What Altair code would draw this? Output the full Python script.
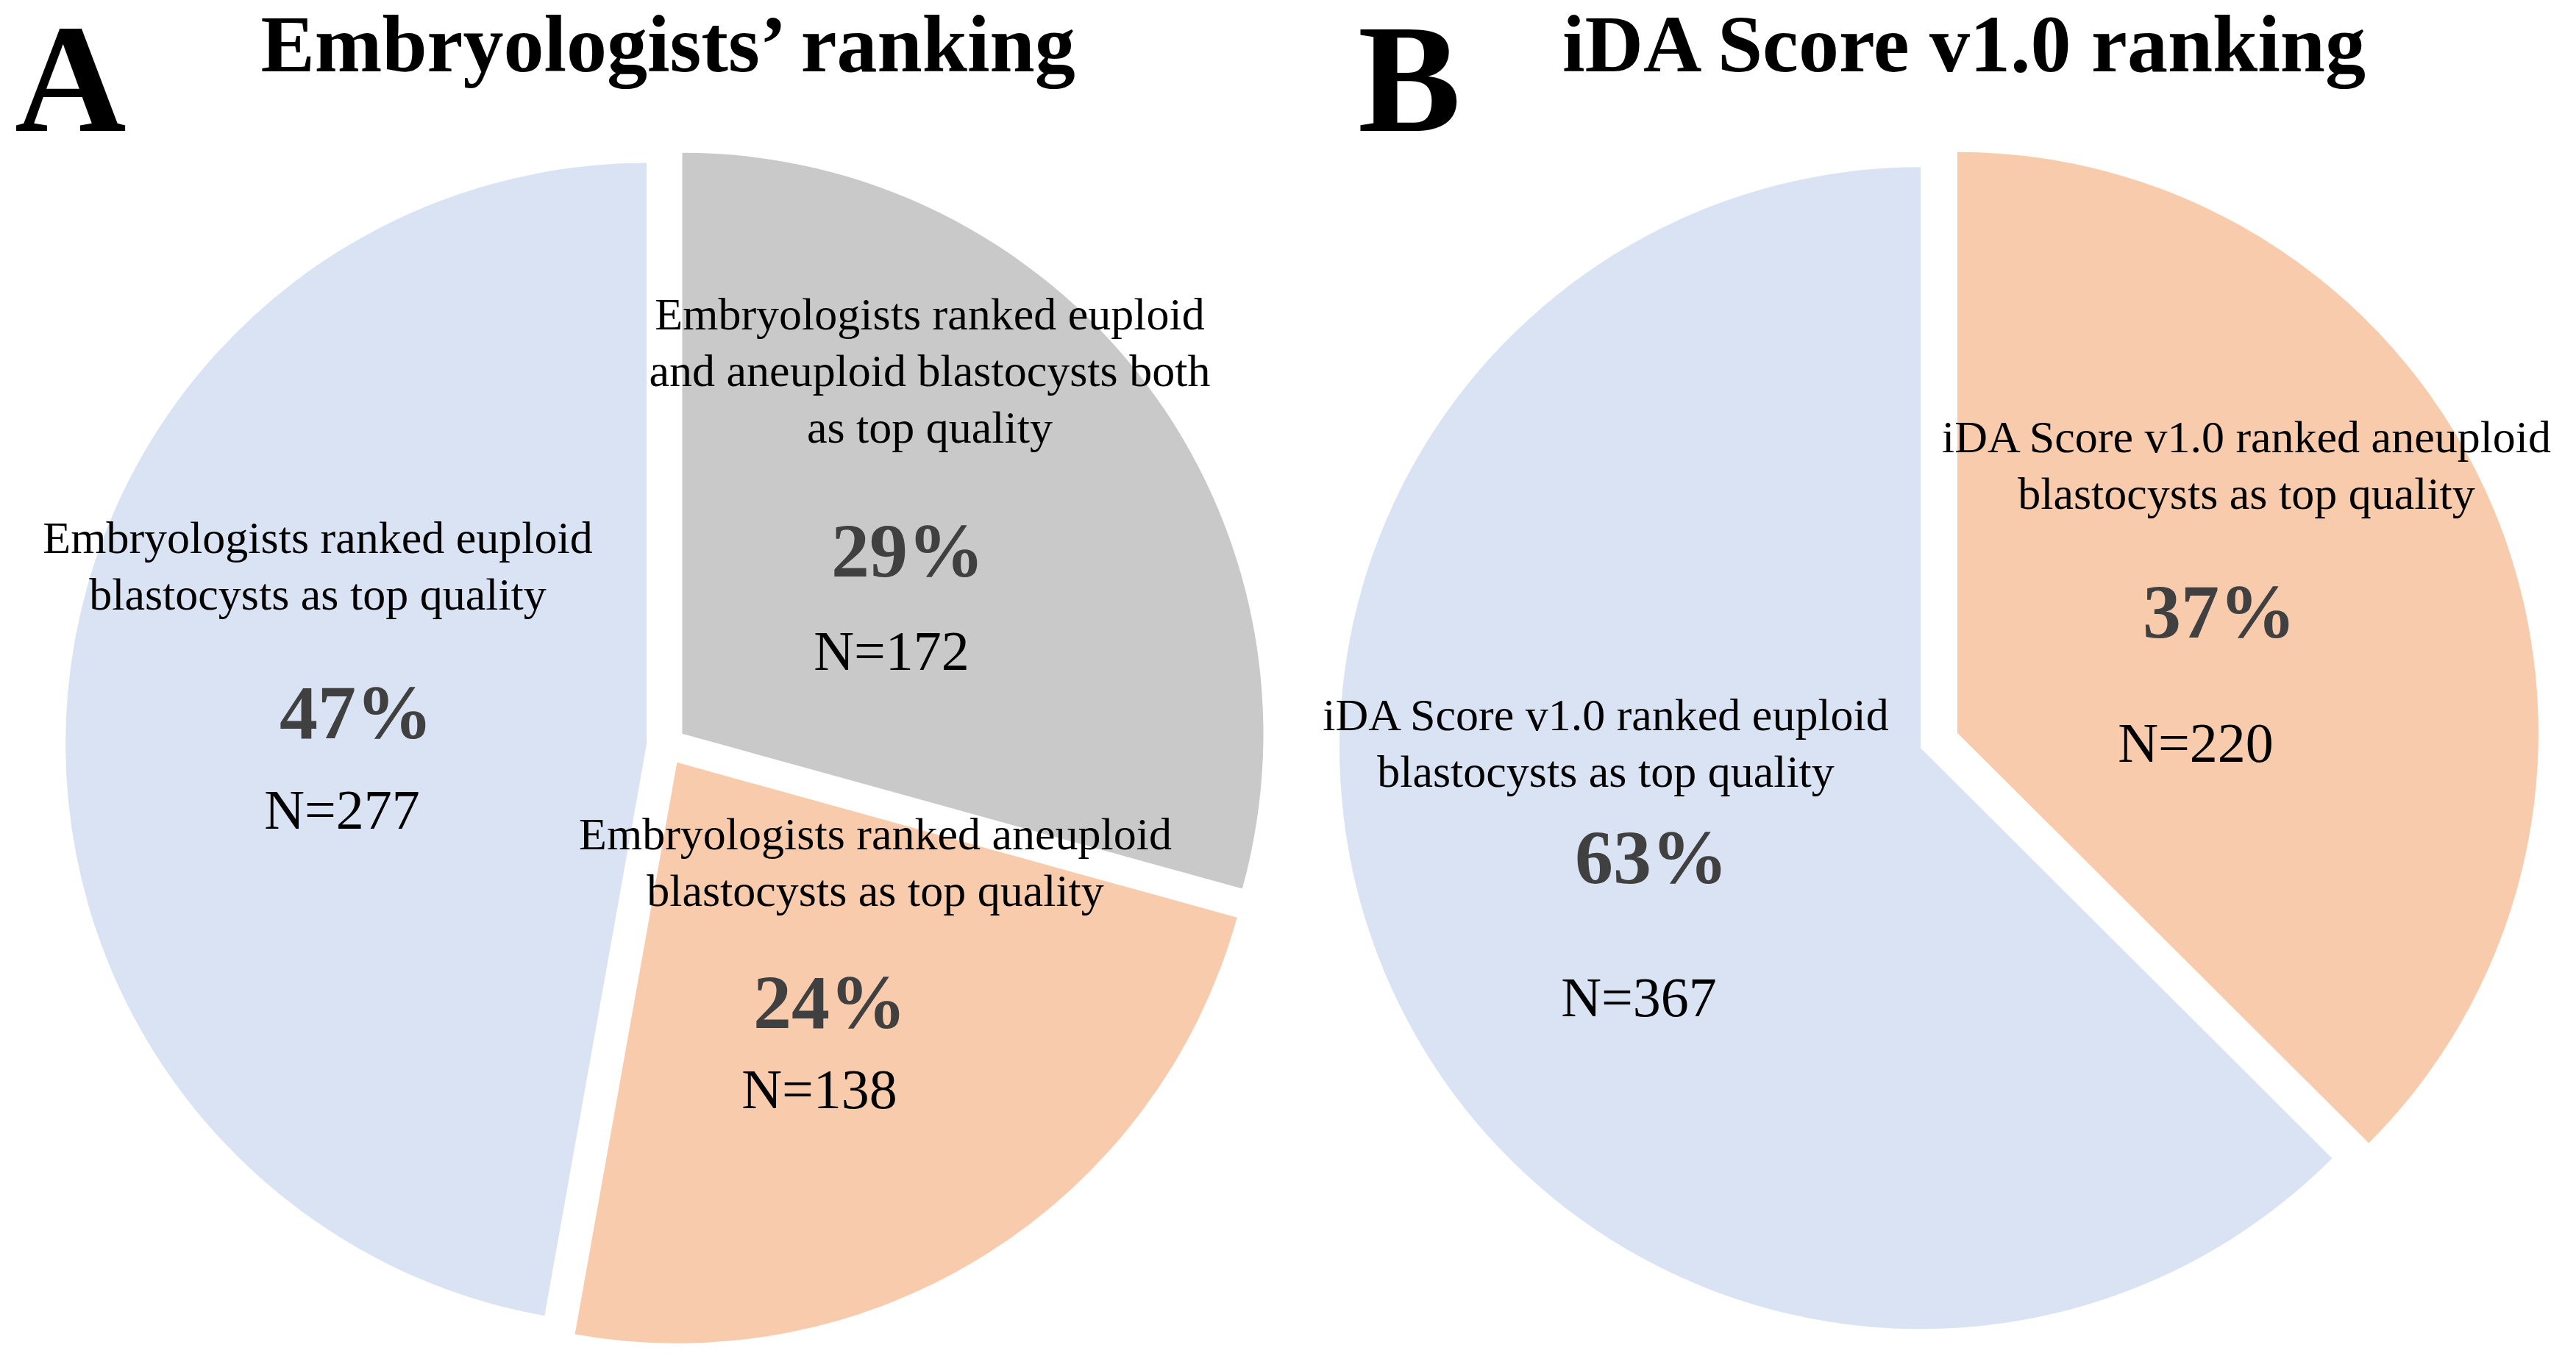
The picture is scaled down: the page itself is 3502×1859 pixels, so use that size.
import math
import altair as alt
import pandas as pd

# ---------------- data ----------------
pies = ["A", "A", "A", "B", "B"]
categories = ["both", "aneuploid", "euploid", "aneuploid", "euploid"]
counts = [172, 138, 277, 220, 367]
percents = ["29%", "24%", "47%", "37%", "63%"]
label_lines = [
    ["Embryologists ranked euploid", "and aneuploid blastocysts both", "as top quality"],
    ["Embryologists ranked aneuploid", "blastocysts as top quality"],
    ["Embryologists ranked euploid", "blastocysts as top quality"],
    ["iDA Score v1.0 ranked aneuploid", "blastocysts as top quality"],
    ["iDA Score v1.0 ranked euploid", "blastocysts as top quality"],
]
panel_letters = ["A", "B"]
panel_titles = ["Embryologists\u2019 ranking", "iDA Score v1.0 ranking"]

# ---------------- style / layout ----------------
colors = {"euploid": "#DAE3F3", "aneuploid": "#F8CBAD", "both": "#C9C9C9"}
W, H, M = 3486, 1843, 8
pie_center = {"A": (906, 1014), "B": (2636, 1007)}
R = 790
EXPLODE = 27
LINE_H = 77
FONT = "Liberation Serif"
# (label center x, first baseline y), (percent x, y), (N x, y)
label_pos = [
    ((1264, 448), (1234, 784), (1212, 911)),
    ((1190, 1155), (1128, 1398), (1114, 1507)),
    ((432, 752), (484, 1004), (465, 1127)),
    ((3054, 615), (3017, 867), (2985, 1036)),
    ((2183, 993), (2245, 1201), (2228, 1382)),
]
title_pos = [(908, 97), (2670, 97)]
letter_pos = [(20, 178), (1846, 178)]

# ---------------- tables ----------------
slices = pd.DataFrame({
    "pie": pies,
    "category": categories,
    "n": counts,
    "order": list(range(len(pies))),
    "color": [colors[c] for c in categories],
    "cx": [pie_center[p][0] for p in pies],
    "cy": [pie_center[p][1] for p in pies],
})

line_rows, pct_rows, n_rows = [], [], []
for i, lines in enumerate(label_lines):
    (lx, ly), (px, py), (nx, ny) = label_pos[i]
    for j, t in enumerate(lines):
        line_rows.append({"x": lx, "y": ly + j * LINE_H, "text": t})
    pct_rows.append({"x": px, "y": py, "text": percents[i]})
    n_rows.append({"x": nx, "y": ny, "text": f"N={counts[i]}"})
lines_df = pd.DataFrame(line_rows)
pct_df = pd.DataFrame(pct_rows)
n_df = pd.DataFrame(n_rows)
title_df = pd.DataFrame({"x": [p[0] for p in title_pos], "y": [p[1] for p in title_pos], "text": panel_titles})
letter_df = pd.DataFrame({"x": [p[0] for p in letter_pos], "y": [p[1] for p in letter_pos], "text": panel_letters})

xs = alt.Scale(domain=[M, M + W], nice=False, zero=False)
ys = alt.Scale(domain=[M + H, M], nice=False, zero=False)

arcs = (
    alt.Chart(slices)
    .transform_joinaggregate(total="sum(n)", groupby=["pie"])
    .transform_window(cum="sum(n)", groupby=["pie"], sort=[alt.SortField("order")], frame=[None, 0])
    .transform_calculate(
        t0="(datum.cum - datum.n) / datum.total",
        t1="datum.cum / datum.total",
        mid=f"2 * PI * (datum.cum - datum.n / 2) / datum.total",
    )
    .transform_calculate(
        px=f"datum.cx + {EXPLODE} * sin(datum.mid)",
        py=f"datum.cy - {EXPLODE} * cos(datum.mid)",
    )
    .mark_arc(radius=R, stroke=None)
    .encode(
        x=alt.X("px:Q", scale=xs, axis=None),
        y=alt.Y("py:Q", scale=ys, axis=None),
        theta=alt.Theta("t0:Q", scale=alt.Scale(domain=[0, 1], range=[0, 2 * math.pi]), stack=None),
        theta2="t1:Q",
        color=alt.Color("color:N", scale=None),
    )
)


def text_layer(df, size, weight="normal", color="black", align="center"):
    return (
        alt.Chart(df)
        .mark_text(font=FONT, fontSize=size, fontWeight=weight, color=color,
                   align=align, baseline="alphabetic")
        .encode(
            x=alt.X("x:Q", scale=xs, axis=None),
            y=alt.Y("y:Q", scale=ys, axis=None),
            text="text:N",
        )
    )


chart = (
    alt.layer(
        arcs,
        text_layer(lines_df, 62),
        text_layer(pct_df, 104, "bold", "#404040"),
        text_layer(n_df, 76),
        text_layer(title_df, 110, "bold"),
        text_layer(letter_df, 210, "bold", align="left"),
    )
    .properties(width=W, height=H, padding=0, background="white")
    .configure_view(stroke=None)
)

chart.save("out.html", embed_options={"renderer": "svg", "actions": False})
